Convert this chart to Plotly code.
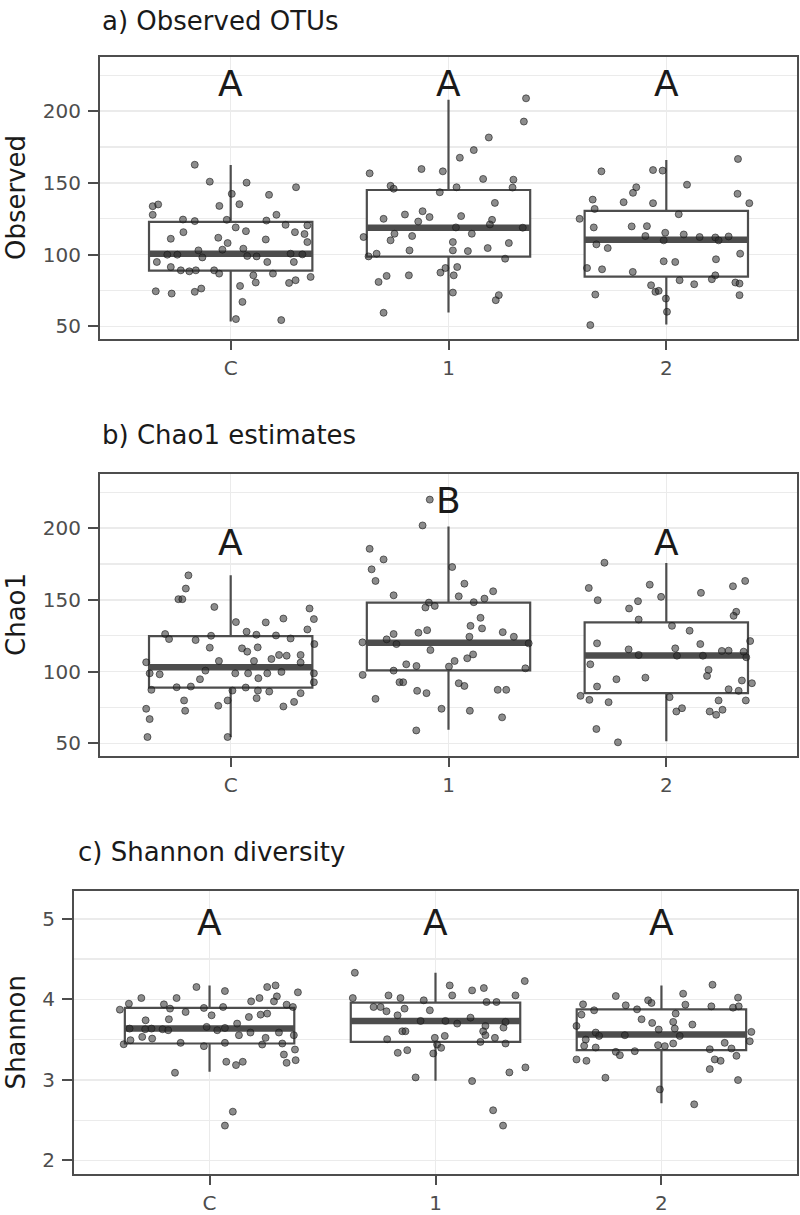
import plotly.graph_objects as go

groups = ["C", "1", "2"]
positions = [0, 1, 2]
BOX_W = 0.75

# ---------------- Panel a: Observed OTUs ----------------
obs_q1 = [88.9, 98.6, 84.7]
obs_med = [100.7, 118.8, 110.4]
obs_q3 = [122.9, 145.1, 130.6]
obs_lo = [53.5, 59.7, 51.4]
obs_hi = [162.5, 208.0, 166.0]
obs_letters = ["A", "A", "A"]
obs_letter_y = [219, 219, 219]

obs_C_y = [162.7, 150.9, 150.2, 147, 141.7, 142.4, 133.8, 135, 134, 135.2, 127.8, 127.8, 124.5, 123.4, 124.3,
           123.8, 120.8, 120.4, 115.7, 119, 116.4, 115.7, 114.4, 111.1, 111.8, 110.6, 108.1, 108.8, 103, 103.5,
           104.2, 100, 100, 98.1, 99.1, 98.8, 94.9, 100.7, 100.2, 94.9, 91.4, 89.1, 88.4, 89.1, 89.1, 86.8, 85.6,
           86.8, 84.5, 94.9, 78.2, 80.6, 80.3, 82.2, 74.5, 72.9, 74.1, 76.4, 67.1, 55.1, 54.4]
obs_C_dx = [-0.165, -0.096, 0.073, 0.30, 0.176, 0.005, -0.358, -0.333, -0.052, 0.04, -0.358, 0.21, -0.219, -0.165,
            -0.018, 0.164, 0.252, 0.352, -0.217, 0.023, 0.07, 0.295, 0.339, -0.275, -0.057, 0.161, -0.014, 0.352,
            -0.148, -0.038, 0.058, -0.291, -0.245, -0.13, 0.076, 0.119, 0.168, 0.275, 0.329, -0.339, -0.275, -0.229,
            -0.19, -0.16, -0.076, -0.053, 0.104, 0.194, 0.367, 0.29, 0.043, 0.115, 0.268, 0.298, -0.344, -0.271,
            -0.165, -0.135, 0.054, 0.024, 0.232]
obs_1_y = [209, 192.8, 181.7, 172.9, 167.6, 159.7, 158.1, 152.8, 152.3, 146.8, 147, 143.5, 136.1, 128, 130.3, 126.2,
           123.1, 126.9, 124.3, 121.1, 119, 118.8, 113, 114.6, 108.8, 103, 103, 102.5, 104.6, 108.1, 97.2, 85.6, 87.5,
           90.7, 91.4, 85.6, 73.6, 71.8, 68.3, 156.7, 112.3, 98.8, 100.7, 125, 110, 114.6, 81, 85.2, 59.5, 148, 146]
obs_1_dx = [0.356, 0.346, 0.185, 0.116, 0.052, -0.124, -0.026, 0.159, 0.298, 0.294, 0.037, -0.04, 0.213, -0.2,
            -0.119, -0.087, -0.139, 0.058, 0.2, 0.19, 0.034, 0.341, -0.167, 0.107, 0.02, -0.179, 0.02, 0.089, 0.18,
            0.277, 0.26, -0.182, -0.037, -0.014, 0.04, 0.024, 0.02, 0.231, 0.217, -0.362, -0.39, -0.367, -0.33,
            -0.298, -0.266, -0.248, -0.321, -0.284, -0.298, -0.266, -0.252]
obs_2_y = [166.7, 158.1, 159, 158.6, 147, 143.1, 148.8, 138.4, 136.6, 135.9, 142.4, 135.9, 131.9, 128.2, 125, 119,
           119.7, 119.9, 113, 115.3, 114.1, 112.3, 112, 110, 112.7, 110, 107.2, 104.6, 100.7, 95.4, 94.9, 96.8, 90.7,
           89.8, 88, 85.6, 82.2, 79.4, 82.9, 80.6, 79.9, 78.7, 74.1, 74.8, 72.2, 71.8, 69.4, 60.2, 50.9]
obs_2_dx = [0.329, -0.298, -0.061, -0.017, -0.138, -0.153, 0.095, -0.338, -0.196, -0.061, 0.327, 0.381, -0.329,
            0.057, -0.398, -0.333, -0.159, -0.089, -0.096, -0.005, 0.08, 0.153, 0.225, 0.24, 0.286, -0.012, -0.321,
            -0.269, 0.339, -0.012, 0.041, 0.228, -0.364, -0.295, -0.154, 0.225, 0.061, 0.128, 0.209, 0.317, 0.336,
            -0.07, -0.05, -0.035, -0.326, 0.336, -0.002, 0.003, -0.349]

# ---------------- Panel b: Chao1 ----------------
chao_q1 = [88.9, 100.9, 85.0]
chao_med = [103.0, 120.1, 111.3]
chao_q3 = [124.8, 148.1, 134.3]
chao_lo = [54.4, 59.5, 51.4]
chao_hi = [167.1, 201.2, 175.7]
chao_letters = ["A", "B", "A"]
chao_letter_y = [190, 219, 190]

chao_C_y = [167.1, 157.9, 150.5, 150.5, 145.1, 144, 136.6, 134.5, 134.3, 137, 129.4, 126.2, 122.7, 122, 125, 127.8,
            125.7, 125.2, 123.1, 119.2, 116.7, 116.2, 113.9, 116.9, 107.4, 107.4, 108.8, 111.6, 111.1, 111.6, 106.3,
            106.5, 98.8, 98.1, 100.7, 98.8, 98.8, 95.4, 98.8, 99.8, 98.8, 94.7, 92.6, 87.3, 89.1, 89.6, 88.9, 86.8,
            86.1, 86.8, 85, 81.5, 79.9, 72.7, 79.9, 76.2, 75.7, 78.9, 74.1, 66.9, 54.4, 54.4]
chao_C_dx = [-0.194, -0.206, -0.24, -0.222, -0.075, 0.362, 0.382, 0.024, 0.161, 0.242, 0.352, -0.301, -0.283,
             -0.161, -0.09, 0.073, 0.118, 0.208, 0.275, 0.384, -0.096, 0.052, 0.076, 0.124, -0.054, 0.107, 0.187,
             0.222, 0.257, 0.321, 0.321, -0.388, -0.372, -0.326, -0.116, 0.021, 0.08, 0.127, 0.168, 0.233, 0.382,
             -0.141, 0.382, -0.364, -0.248, -0.183, 0.069, 0.125, 0.177, 0.008, 0.321, 0.119, -0.214, -0.209,
             -0.014, -0.057, 0.242, 0.291, -0.388, -0.372, -0.382, -0.014]
chao_1_y = [185.6, 178.2, 171.3, 163.2, 153.2, 120.4, 97.7, 81, 122.5, 126.2, 119.2, 100.7, 92.6,
            219.9, 201.9, 172.9, 161.3, 156, 152.5, 150.9, 148.4, 148.1, 144.7, 145.8, 137.5, 131.9, 130.1, 127.1,
            128.9, 127.5, 124.3, 124.3, 115, 112, 109.3, 107.4, 119.7, 105.1, 103.9, 103.5, 102.3, 92.6, 91.9, 90,
            86.6, 85, 87.3, 87.3, 74.1, 72.7, 68.1, 59]
chao_1_dx = [-0.362, -0.298, -0.353, -0.335, -0.252, -0.395, -0.394, -0.335, -0.284, -0.252, -0.239, -0.252, -0.225,
             -0.086, -0.119, 0.017, 0.073, 0.205, 0.047, 0.165, 0.116, -0.09, -0.106, -0.063, 0.147, 0.101, 0.154,
             -0.138, -0.098, 0.249, 0.3, 0.096, -0.083, 0.113, 0.086, 0.028, 0.368, -0.194, -0.147, 0.002, 0.353,
             -0.208, 0.047, 0.073, -0.144, -0.101, 0.226, 0.265, -0.032, 0.098, 0.246, -0.148]
chao_2_y = [175.9, 158.3, 160.6, 149.8, 152.1, 154.9, 159.5, 163.2, 149.1, 144, 136.3, 141.7, 138.9, 131.9, 128.5,
            119.7, 115.5, 116.2, 119.2, 114.4, 114.6, 121.3, 113.9, 111.6, 111.1, 111.1, 110, 105.1, 101.2, 97, 94.7,
            95.8, 93.8, 91.9, 89.6, 87.7, 86.6, 83.1, 80.3, 78.7, 82.2, 79.9, 79.9, 72.2, 74.5, 72.2, 69.9, 73.4, 60,
            50.7]
chao_2_dx = [-0.284, -0.356, -0.076, -0.315, -0.024, 0.159, 0.306, 0.362, -0.13, -0.171, -0.127, 0.321, 0.309,
             0.026, 0.107, -0.318, -0.173, 0.041, 0.156, 0.255, 0.286, 0.385, 0.355, -0.127, 0.049, 0.168, 0.367,
             -0.349, 0.194, 0.187, -0.229, -0.096, 0.347, 0.393, -0.318, 0.286, 0.332, -0.394, -0.353, -0.265, 0.015,
             0.24, 0.365, 0.046, 0.072, 0.199, 0.229, 0.258, -0.321, -0.222]

# ---------------- Panel c: Shannon ----------------
sha_q1 = [3.452, 3.472, 3.369]
sha_med = [3.637, 3.732, 3.563]
sha_q3 = [3.893, 3.959, 3.876]
sha_lo = [3.101, 2.99, 2.709]
sha_hi = [4.173, 4.33, 4.173]
sha_letters = ["A", "A", "A"]
sha_letter_y = [4.96, 4.96, 4.96]

sha_C_y = [4.153, 4.103, 4.153, 4.173, 4.087, 4.016, 4.016, 3.946, 3.938, 4.016, 3.975, 4.037, 3.975, 3.934, 3.905,
           3.872, 3.885, 3.843, 3.893, 3.905, 3.823, 3.81, 3.781, 3.802, 3.74, 3.753, 3.699, 3.637, 3.629, 3.637,
           3.629, 3.617, 3.658, 3.617, 3.645, 3.588, 3.555, 3.522, 3.588, 3.555, 3.534, 3.513, 3.493, 3.443, 3.46,
           3.419, 3.46, 3.439, 3.452, 3.315, 3.377, 3.212, 3.245, 3.225, 3.184, 3.225, 3.089, 2.606, 2.433]
sha_C_dx = [-0.058, 0.068, 0.255, 0.292, 0.391, -0.302, -0.146, -0.357, -0.202, 0.221, 0.184, 0.298, 0.285, 0.341,
            0.369, -0.397, -0.175, -0.106, -0.025, 0.06, 0.255, 0.226, 0.174, 0.009, -0.283, -0.18, 0.122, -0.354,
            -0.285, -0.257, -0.208, -0.183, -0.013, 0.034, 0.068, 0.181, 0.13, 0.248, 0.307, 0.373, -0.298, -0.254,
            -0.35, -0.38, -0.128, -0.025, 0.068, 0.233, 0.322, 0.329, 0.378, 0.341, 0.381, 0.074, 0.117, 0.147,
            -0.153, 0.103, 0.068]
sha_1_y = [4.33, 4.016, 4.049, 3.905, 3.905, 3.852, 3.802, 3.505, 3.336,
           4.016, 3.885, 3.988, 3.864, 4.173, 4.049, 4.111, 4.14, 3.967, 3.967, 4.049, 4.227, 3.773, 3.732, 3.732,
           3.699, 3.67, 3.72, 3.604, 3.604, 3.604, 3.649, 3.522, 3.546, 3.522, 3.555, 3.472, 3.452, 3.439, 3.398,
           3.369, 3.328, 3.031, 2.986, 3.093, 3.155, 2.623, 2.433]
sha_1_dx = [-0.357, -0.366, -0.208, -0.274, -0.243, -0.217, -0.168, -0.214, -0.167,
            -0.155, -0.137, -0.052, -0.025, 0.063, 0.074, 0.162, 0.214, 0.226, 0.27, 0.354, 0.395, 0.155, -0.066,
            0.044, 0.096, 0.221, 0.31, -0.147, -0.133, 0.211, 0.301, -0.003, 0.041, 0.263, 0.221, 0.199, 0.31, 0.007,
            0.025, -0.125, -0.01, -0.088, 0.162, 0.327, 0.398, 0.255, 0.299]
sha_2_y = [4.181, 4.041, 4.07, 4.021, 3.988, 3.955, 3.938, 3.926, 3.876, 3.934, 3.913, 3.897, 3.913, 3.864, 3.81,
           3.823, 3.753, 3.707, 3.72, 3.687, 3.625, 3.637, 3.67, 3.588, 3.546, 3.555, 3.546, 3.596, 3.501, 3.46,
           3.452, 3.431, 3.419, 3.48, 3.423, 3.402, 3.348, 3.307, 3.357, 3.381, 3.39, 3.299, 3.254, 3.237, 3.254,
           3.237, 3.134, 3.027, 2.998, 2.882, 2.697]
sha_2_dx = [0.226, -0.202, 0.096, 0.339, -0.059, -0.044, -0.347, -0.158, -0.108, 0.106, 0.221, 0.317, 0.342,
            -0.298, -0.354, 0.063, -0.088, -0.041, 0.052, 0.137, -0.012, 0.059, -0.376, -0.291, -0.276, -0.162,
            0.081, 0.398, -0.335, 0.28, 0.052, -0.015, 0.015, 0.391, -0.342, -0.291, -0.202, -0.184, -0.118, 0.214,
            0.31, 0.332, 0.236, 0.262, -0.376, -0.332, 0.214, -0.248, 0.339, -0.007, 0.145]

panel_titles = ["a) Observed OTUs", "b) Chao1 estimates", "c) Shannon diversity"]
y_titles = ["Observed", "Chao1", "Shannon"]
y_ranges = [[41, 238], [41, 238], [1.83, 5.35]]
y_ticks = [[50, 100, 150, 200], [50, 100, 150, 200], [2, 3, 4, 5]]
y_minor = [25, 25, 0.5]

panels = [
    dict(q1=obs_q1, med=obs_med, q3=obs_q3, lo=obs_lo, hi=obs_hi, letters=obs_letters, letter_y=obs_letter_y,
         pts=[(obs_C_dx, obs_C_y), (obs_1_dx, obs_1_y), (obs_2_dx, obs_2_y)]),
    dict(q1=chao_q1, med=chao_med, q3=chao_q3, lo=chao_lo, hi=chao_hi, letters=chao_letters, letter_y=chao_letter_y,
         pts=[(chao_C_dx, chao_C_y), (chao_1_dx, chao_1_y), (chao_2_dx, chao_2_y)]),
    dict(q1=sha_q1, med=sha_med, q3=sha_q3, lo=sha_lo, hi=sha_hi, letters=sha_letters, letter_y=sha_letter_y,
         pts=[(sha_C_dx, sha_C_y), (sha_1_dx, sha_1_y), (sha_2_dx, sha_2_y)]),
]

W, H = 800, 1215
# pixel layout of the three plotting panels: (left, right, top, bottom)
boxes_px = [(100, 797, 57, 341), (100, 797, 476, 760), (74, 797, 895, 1180)]
title_px = [(100, 21), (100, 437), (76, 856)]

FONT = "DejaVu Sans"
DARK = "#4d4d4d"
GRID = "#ebebeb"
TICKFONT = dict(size=20, color=DARK, family=FONT)

fig = go.Figure()
layout = dict(width=W, height=H, margin=dict(l=0, r=0, t=0, b=0), paper_bgcolor="white",
              plot_bgcolor="white", showlegend=False, font=dict(family=FONT, color=DARK, size=20))
annotations = []

for i, p in enumerate(panels):
    sfx = "" if i == 0 else str(i + 1)
    xa, ya = "x" + sfx, "y" + sfx
    l, r, t, b = boxes_px[i]
    layout["xaxis" + sfx] = dict(
        domain=[l / W, r / W], range=[-0.6, 2.6], anchor=ya, tickmode="array", tickvals=positions,
        ticktext=groups, showline=True, mirror=True, linecolor=DARK, linewidth=2, ticks="outside",
        ticklen=9, tickwidth=2, tickcolor=DARK, tickfont=TICKFONT, ticklabelstandoff=1,
        showgrid=True, gridcolor=GRID, gridwidth=1.6, zeroline=False, fixedrange=True)
    layout["yaxis" + sfx] = dict(
        domain=[1 - b / H, 1 - t / H], range=y_ranges[i], anchor=xa, tickmode="array", tickvals=y_ticks[i],
        showline=True, mirror=True, linecolor=DARK, linewidth=2, ticks="outside", ticklen=10, tickwidth=2,
        tickcolor=DARK, tickfont=TICKFONT, ticklabelstandoff=3,
        showgrid=True, gridcolor=GRID, gridwidth=1.6, zeroline=False, fixedrange=True,
        minor=dict(dtick=y_minor[i], tick0=0, showgrid=True, gridcolor=GRID, gridwidth=1.2, ticks=""))

    for g in range(3):
        x0 = positions[g]
        fig.add_trace(go.Box(
            x=[x0], q1=[p["q1"][g]], median=[p["med"][g]], q3=[p["q3"][g]],
            lowerfence=[p["lo"][g]], upperfence=[p["hi"][g]], width=BOX_W, whiskerwidth=0,
            fillcolor="white", line=dict(color=DARK, width=2.2), boxpoints=False,
            xaxis=xa, yaxis=ya, hoverinfo="skip"))
        fig.add_trace(go.Scatter(
            x=[x0 - BOX_W / 2, x0 + BOX_W / 2], y=[p["med"][g], p["med"][g]], mode="lines",
            line=dict(color=DARK, width=6.5), xaxis=xa, yaxis=ya, hoverinfo="skip"))
    for g in range(3):
        dx, yv = p["pts"][g]
        fig.add_trace(go.Scatter(
            x=[positions[g] + d for d in dx], y=yv, mode="markers",
            marker=dict(size=7, color="rgba(45,45,45,0.55)", line=dict(color="rgba(25,25,25,0.6)", width=1)),
            xaxis=xa, yaxis=ya, hoverinfo="skip"))
        annotations.append(dict(x=positions[g], y=p["letter_y"][g], xref=xa, yref=ya, text=p["letters"][g],
                                showarrow=False, font=dict(size=36, color="#1a1a1a", family=FONT),
                                xanchor="center", yanchor="middle"))

    tx, ty = title_px[i]
    annotations.append(dict(x=tx / W, y=1 - ty / H, xref="paper", yref="paper", text=panel_titles[i],
                            showarrow=False, xanchor="left", yanchor="middle",
                            font=dict(size=26, color="#1a1a1a", family=FONT)))
    annotations.append(dict(x=16 / W, y=1 - ((t + b) / 2) / H, xref="paper", yref="paper", text=y_titles[i],
                            showarrow=False, xanchor="center", yanchor="middle", textangle=-90,
                            font=dict(size=26, color="#1a1a1a", family=FONT)))

layout["annotations"] = annotations
fig.update_layout(**layout)
fig.write_html("out.html", config={"displayModeBar": False, "staticPlot": True},
               post_script="document.body.style.margin='0';document.body.style.padding='0';"
                           "document.body.style.overflow='hidden';")
